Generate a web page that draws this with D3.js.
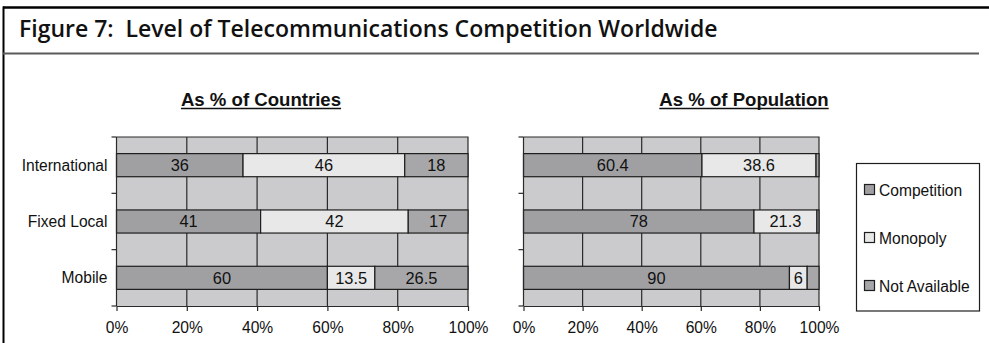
<!DOCTYPE html>
<html>
<head>
<meta charset="utf-8">
<script src="https://cdn.jsdelivr.net/npm/d3@7"></script>
<style>
  html, body { margin: 0; padding: 0; background: #fff; }
  svg { display: block; }
</style>
</head>
<body>
<svg id="chart" width="989" height="343"></svg>
<script>
// Level of telecommunications competition, by service
const categories = ["International", "Fixed Local", "Mobile"];
const seriesNames = ["Competition", "Monopoly", "Not Available"];

// As % of countries
const countriesCompetition = [36, 41, 60];
const countriesMonopoly = [46, 42, 13.5];
const countriesNotAvailable = [18, 17, 26.5];

// As % of population
const populationCompetition = [60.4, 78, 90];
const populationMonopoly = [38.6, 21.3, 6];
const populationNotAvailable = [1, 0.7, 4];

const xTicks = [0, 20, 40, 60, 80, 100];
const tickLabels = ["0%", "20%", "40%", "60%", "80%", "100%"];

const colors = { "Competition": "#a0a0a3", "Monopoly": "#e8e8e8", "Not Available": "#a7a7a9" };
const plotBg = "#cbcbcd";
const ink = "#1e1e1e";
const sans = "'Liberation Sans', Arial, sans-serif";
const labelSize = 15.6;

const svg = d3.select("#chart");

// Outer frame (top and left rules)
svg.append("line").attr("x1", 3).attr("x2", 989).attr("y1", 7.5).attr("y2", 7.5)
  .attr("stroke", "#000").attr("stroke-width", 2.5);
svg.append("line").attr("x1", 3.5).attr("x2", 3.5).attr("y1", 6.5).attr("y2", 343)
  .attr("stroke", "#000").attr("stroke-width", 2);

// Heading
const title = svg.append("text")
  .attr("x", 19).attr("y", 37)
  .attr("font-family", "'Open Sans', sans-serif")
  .attr("font-weight", 600)
  .attr("font-size", 20)
  .attr("fill", "#111")
  .text("Figure 7:\u00a0\u00a0Level of Telecommunications Competition Worldwide");
{
  const w = title.node().getComputedTextLength();
  title.attr("font-size", 20 * 699 / w);
}
svg.append("line").attr("x1", 3).attr("x2", 979).attr("y1", 53.5).attr("y2", 53.5)
  .attr("stroke", "#5a5a5a").attr("stroke-width", 2);

function stackRows(comp, mono, na) {
  return categories.map((c, i) => {
    const vals = [comp[i], mono[i], na[i]];
    let acc = 0;
    return {
      category: c,
      parts: vals.map((v, k) => {
        const p = { series: seriesNames[k], value: v, x0: acc, x1: acc + v };
        acc += v;
        return p;
      })
    };
  });
}

function drawPanel(opts) {
  const { left, right, top, bottom, heading, headingX, rows, labelled } = opts;
  const g = svg.append("g");

  const x = d3.scaleLinear().domain([0, 100]).range([left, right]);
  const y = d3.scaleBand().domain(categories).range([top, bottom])
    .paddingInner(0.59).paddingOuter(0.295);

  // Panel heading, underlined
  const h = g.append("text")
    .attr("x", headingX).attr("y", 106)
    .attr("text-anchor", "middle")
    .attr("font-family", sans)
    .attr("font-weight", "bold")
    .attr("font-size", 18.6)
    .attr("fill", "#111")
    .text(heading);
  const bb = h.node().getBBox();
  g.append("line").attr("x1", bb.x).attr("x2", bb.x + bb.width)
    .attr("y1", 108.5).attr("y2", 108.5).attr("stroke", "#111").attr("stroke-width", 1.4);

  // Plot background
  g.append("rect").attr("x", left).attr("y", top)
    .attr("width", right - left).attr("height", bottom - top)
    .attr("fill", plotBg);

  // Vertical gridlines
  g.selectAll("line.grid").data(xTicks.slice(1, -1)).join("line")
    .attr("class", "grid")
    .attr("x1", d => x(d)).attr("x2", d => x(d))
    .attr("y1", top).attr("y2", bottom)
    .attr("stroke", "#2a2a2a").attr("stroke-width", 1.2);

  // Plot border (top and right)
  g.append("path")
    .attr("d", `M${left},${top}H${right}V${bottom}`)
    .attr("fill", "none").attr("stroke", "#2a2a2a").attr("stroke-width", 1.2);

  // Stacked bars
  const rowG = g.selectAll("g.row").data(rows).join("g")
    .attr("class", "row")
    .attr("transform", d => `translate(0,${y(d.category)})`);

  rowG.selectAll("rect").data(d => d.parts).join("rect")
    .attr("x", d => x(d.x0))
    .attr("y", 0)
    .attr("width", d => x(d.x1) - x(d.x0))
    .attr("height", y.bandwidth())
    .attr("fill", d => colors[d.series])
    .attr("stroke", ink).attr("stroke-width", 1.2);

  rowG.selectAll("text").data(d => d.parts.filter(p => labelled[p.series])).join("text")
    .attr("x", d => (x(d.x0) + x(d.x1)) / 2)
    .attr("y", y.bandwidth() / 2 + 6)
    .attr("text-anchor", "middle")
    .attr("font-family", sans)
    .attr("font-size", 16.4)
    .attr("fill", "#111")
    .text(d => d.value);

  // Category axis: line, boundary ticks and labels
  const bounds = d3.range(categories.length + 1).map(i => top + i * (bottom - top) / categories.length);
  g.append("line").attr("x1", left).attr("x2", left).attr("y1", top).attr("y2", bottom)
    .attr("stroke", "#2a2a2a").attr("stroke-width", 1.2);
  g.selectAll("line.ytick").data(bounds).join("line")
    .attr("class", "ytick")
    .attr("x1", left - 5).attr("x2", left)
    .attr("y1", d => d).attr("y2", d => d)
    .attr("stroke", "#2a2a2a").attr("stroke-width", 1.2);
  if (opts.showCategories) {
    g.selectAll("text.ylabel").data(categories).join("text")
      .attr("class", "ylabel")
      .attr("x", left - 9)
      .attr("y", d => y(d) + y.bandwidth() / 2 + 5.5)
      .attr("text-anchor", "end")
      .attr("font-family", sans)
      .attr("font-size", labelSize)
      .attr("fill", "#111")
      .text(d => d);
  }

  // Value axis
  const axis = d3.axisBottom(x).tickValues(xTicks)
    .tickFormat((d, i) => tickLabels[i]).tickSize(5).tickSizeOuter(0).tickPadding(11);
  const ax = g.append("g").attr("transform", `translate(0,${bottom})`).call(axis);
  ax.select(".domain").attr("stroke", "#2a2a2a").attr("stroke-width", 1.2);
  ax.selectAll(".tick line").attr("stroke", "#2a2a2a").attr("stroke-width", 1.2);
  ax.selectAll(".tick text")
    .attr("font-family", sans)
    .attr("font-size", labelSize).attr("fill", "#111");
}

drawPanel({
  left: 116.5, right: 468, top: 137, bottom: 306,
  heading: "As % of Countries", headingX: 261,
  rows: stackRows(countriesCompetition, countriesMonopoly, countriesNotAvailable),
  labelled: { "Competition": true, "Monopoly": true, "Not Available": true },
  showCategories: true
});

drawPanel({
  left: 523.5, right: 819, top: 137, bottom: 306,
  heading: "As % of Population", headingX: 744,
  rows: stackRows(populationCompetition, populationMonopoly, populationNotAvailable),
  labelled: { "Competition": true, "Monopoly": true, "Not Available": false },
  showCategories: false
});

// Legend
const legend = svg.append("g");
legend.append("rect").attr("x", 856.5).attr("y", 163.5).attr("width", 123).attr("height", 147.5)
  .attr("fill", "#fff").attr("stroke", "#1e1e1e").attr("stroke-width", 1.2);
const legendY = d3.scalePoint().domain(seriesNames).range([190, 286]);
const item = legend.selectAll("g.item").data(seriesNames).join("g")
  .attr("class", "item")
  .attr("transform", d => `translate(864,${legendY(d)})`);
item.append("rect").attr("x", 0.5).attr("y", -5.5).attr("width", 10).attr("height", 10)
  .attr("fill", d => colors[d]).attr("stroke", "#1e1e1e").attr("stroke-width", 1.2);
item.append("text").attr("x", 15).attr("y", 5.5)
  .attr("font-family", sans)
  .attr("font-size", labelSize).attr("fill", "#111")
  .text(d => d);
</script>
</body>
</html>
